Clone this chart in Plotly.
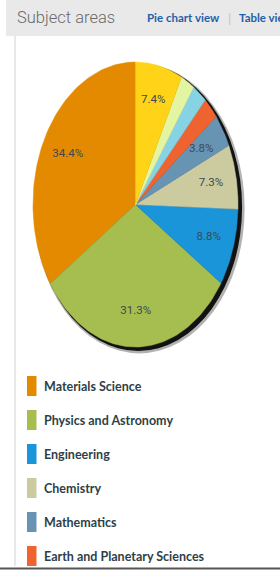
import numpy as np
import plotly.graph_objects as go

categories = ["Materials Science", "Physics and Astronomy", "Engineering", "Chemistry",
              "Mathematics", "Earth and Planetary Sciences", "Energy", "Computer Science", "Other"]
values = [34.4, 31.3, 8.8, 7.3, 3.8, 2.5, 2.3, 2.2, 7.4]
colors = ["#E48A00", "#A6BD50", "#1B95DA", "#CCCA9F", "#6894B4", "#EE6330",
          "#86D3E3", "#E4F5A2", "#FFD418"]
visible_legend = 6

W, H = 280, 570
def px(x):
    return x / W
def py(y):
    return 1 - y / H

# pie geometry in pixels (elliptical pie)
CX, CY, RX, RY = 135.5, 204.5, 102.5, 142.5
PADL, PADR, PADT, PADB = 4, 10, 4, 10

fig = go.Figure()

total = sum(values)
cum = 0.0
lab_x, lab_y, lab_t = [], [], []
for cat, v, c in zip(categories, values, colors):
    end = 360.0 - cum / total * 360.0
    start = end - v / total * 360.0
    th = np.radians(np.linspace(start, end, 80))
    xs = np.concatenate([[0], np.sin(th), [0]])
    ys = np.concatenate([[0], np.cos(th), [0]])
    fig.add_trace(go.Scatter(x=xs, y=ys, mode="lines", fill="toself", fillcolor=c,
                             line=dict(color=c, width=0.5), name=cat, hoverinfo="name",
                             showlegend=False))
    if v >= 3:
        mid = np.radians((start + end) / 2)
        lab_x.append(0.75 * np.sin(mid))
        lab_y.append(0.75 * np.cos(mid))
        lab_t.append(f"{v:.1f}%")
    cum += v

fig.add_trace(go.Scatter(x=lab_x, y=lab_y, text=lab_t, mode="text",
                         textfont=dict(family="Roboto", size=11.5, color="#3B4A52"),
                         hoverinfo="skip", showlegend=False))

shapes = []
# header bar
shapes.append(dict(type="rect", xref="paper", yref="paper", x0=px(6), x1=1, y0=py(36), y1=1,
                   fillcolor="#E9E9E9", line=dict(width=0), layer="below"))
# left vertical rule
shapes.append(dict(type="line", xref="paper", yref="paper", x0=px(15), x1=px(15), y0=py(566), y1=py(36),
                   line=dict(color="#D2D2D2", width=1), layer="below"))
# bottom rule
shapes.append(dict(type="line", xref="paper", yref="paper", x0=0, x1=1, y0=py(568.5), y1=py(568.5),
                   line=dict(color="#555555", width=2), layer="below"))
# pie shadow
shapes.append(dict(type="circle", xref="x", yref="y", x0=-0.99, x1=1.065, y0=-1.045, y1=0.99,
                   fillcolor="rgba(0,0,0,0.3)", line=dict(width=0), layer="below"))
shapes.append(dict(type="circle", xref="x", yref="y", x0=-0.985, x1=1.04, y0=-1.028, y1=0.99,
                   fillcolor="rgba(0,0,0,0.9)", line=dict(width=0), layer="below"))

annotations = [
    dict(text="Subject areas", x=px(15), y=py(18), xref="paper", yref="paper", xanchor="left",
         yanchor="middle", showarrow=False,
         font=dict(family="Roboto", size=16.5, weight=300, color="#6A6A6A")),
    dict(text="Pie chart view", x=px(145), y=py(18), xref="paper", yref="paper", xanchor="left",
         yanchor="middle", showarrow=False,
         font=dict(family="Lato", size=11.5, weight="bold", color="#1F5FA8")),
    dict(text="|", x=px(229), y=py(18), xref="paper", yref="paper", xanchor="center",
         yanchor="middle", showarrow=False,
         font=dict(family="Liberation Sans", size=13, color="#C8C8C8")),
    dict(text="Table view", x=px(237), y=py(18), xref="paper", yref="paper", xanchor="left",
         yanchor="middle", showarrow=False,
         font=dict(family="Lato", size=11.5, weight="bold", color="#1F5FA8")),
]

for i, (cat, c) in enumerate(zip(categories[:visible_legend], colors[:visible_legend])):
    yc = 386 + 34 * i
    shapes.append(dict(type="rect", xref="paper", yref="paper", x0=px(27), x1=px(36.5),
                       y0=py(yc + 10), y1=py(yc - 10), fillcolor=c, line=dict(width=0)))
    annotations.append(dict(text=cat, x=px(42), y=py(yc), xref="paper", yref="paper",
                            xanchor="left", yanchor="middle", showarrow=False,
                            font=dict(family="Lato", size=12.5, weight="bold", color="#2E3F48")))

fig.update_layout(
    width=W, height=H, margin=dict(l=0, r=0, t=0, b=0),
    paper_bgcolor="white", plot_bgcolor="rgba(0,0,0,0)",
    xaxis=dict(domain=[px(CX - RX - PADL), px(CX + RX + PADR)],
               range=[-1 - PADL / RX, 1 + PADR / RX], visible=False, fixedrange=True),
    yaxis=dict(domain=[py(CY + RY + PADB), py(CY - RY - PADT)],
               range=[-1 - PADB / RY, 1 + PADT / RY], visible=False, fixedrange=True),
    shapes=shapes, annotations=annotations, showlegend=False,
)

fig.write_html("out.html", config={"displayModeBar": False},
               post_script="document.body.style.margin='0px';")
